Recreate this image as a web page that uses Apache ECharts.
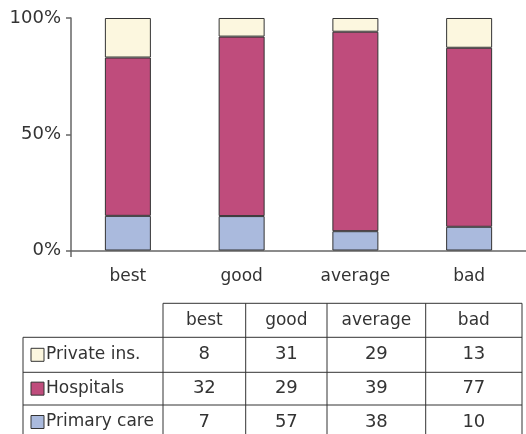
<!DOCTYPE html>
<html>
<head>
<meta charset="utf-8">
<script src="https://cdn.jsdelivr.net/npm/echarts@6/dist/echarts.min.js"></script>
<style>
html,body{margin:0;padding:0;background:#fff;}
#main{width:526px;height:434px;}
</style>
</head>
<body>
<div id="main"></div>
<script>
// Categories and series
var categories = ['best', 'good', 'average', 'bad'];
var seriesNames = ['Private ins.', 'Hospitals', 'Primary care'];
// Table values (as printed in the data table)
var privateIns = [8, 31, 29, 13];
var hospitals = [32, 29, 39, 77];
var primaryCare = [7, 57, 38, 10];
// Bar shares (%)
var primaryShare = [14.9, 14.8, 8.3, 10.2];
var hospitalShare = [68.1, 77.2, 85.8, 77.0];
var privateShare = [17.0, 8.0, 5.9, 12.8];
var yTicks = [0, 50, 100];

var colors = {'Private ins.': '#FCF7DF', 'Hospitals': '#BF4C7C', 'Primary care': '#AABADD'};
var FONT = 'DejaVu Sans';
var chart = echarts.init(document.getElementById('main'));

// table layout
var colX = [163, 245.7, 327, 425.7, 522];
var leftX = 23;
var rowY = [303.3, 337.3, 372.3, 405, 439];
var tableRows = [
  {name: 'Private ins.', values: privateIns},
  {name: 'Hospitals', values: hospitals},
  {name: 'Primary care', values: primaryCare}
];
var g = [];
var lineStyle = {stroke: '#333', lineWidth: 1};
function hline(x1, x2, y) { g.push({type: 'line', shape: {x1: x1, y1: y, x2: x2, y2: y}, style: lineStyle, silent: true}); }
function vline(x, y1, y2) { g.push({type: 'line', shape: {x1: x, y1: y1, x2: x, y2: y2}, style: lineStyle, silent: true}); }
hline(colX[0], colX[4], rowY[0]);
for (var r = 1; r < rowY.length; r++) hline(leftX, colX[4], rowY[r]);
vline(leftX, rowY[1], rowY[4]);
for (var c = 0; c < colX.length; c++) vline(colX[c], rowY[0], rowY[4]);
categories.forEach(function (cat, i) {
  g.push({type: 'text', x: (colX[i] + colX[i + 1]) / 2, y: (rowY[0] + rowY[1]) / 2,
    style: {text: cat, font: '17px "' + FONT + '"', fill: '#333', textAlign: 'center', textVerticalAlign: 'middle'}, silent: true});
});
tableRows.forEach(function (row, ri) {
  var cy = (rowY[ri + 1] + rowY[ri + 2]) / 2;
  g.push({type: 'rect', shape: {x: 31, y: cy - 6.5, width: 13, height: 13},
    style: {fill: colors[row.name], stroke: '#333', lineWidth: 1}, silent: true});
  g.push({type: 'text', x: 46, y: cy,
    style: {text: row.name, font: '17px "' + FONT + '"', fill: '#333', textAlign: 'left', textVerticalAlign: 'middle'}, silent: true});
  row.values.forEach(function (v, ci) {
    g.push({type: 'text', x: (colX[ci] + colX[ci + 1]) / 2, y: cy,
      style: {text: String(v), font: '18px "' + FONT + '"', fill: '#333', textAlign: 'center', textVerticalAlign: 'middle'}, silent: true});
  });
});
// small extension of the axis line below the origin
g.push({type: 'line', shape: {x1: 71, y1: 250.5, x2: 71, y2: 257}, style: {stroke: '#666', lineWidth: 1.5}, silent: true});

function barSeries(name, data) {
  return {
    name: name, type: 'bar', stack: 'total', barWidth: 46, data: data,
    itemStyle: {color: colors[name], borderColor: '#333', borderWidth: 1},
    emphasis: {disabled: true}
  };
}

chart.setOption({
  animation: false,
  backgroundColor: '#fff',
  textStyle: {fontFamily: FONT},
  grid: {left: 71, right: 0, top: 18, bottom: 183.5, containLabel: false},
  xAxis: {
    type: 'category', data: categories,
    axisLine: {show: true, lineStyle: {color: '#666', width: 1.5}},
    axisTick: {show: false},
    axisLabel: {fontSize: 17, color: '#333', margin: 18, fontFamily: FONT}
  },
  yAxis: {
    type: 'value', min: yTicks[0], max: yTicks[yTicks.length - 1], interval: 50,
    axisLine: {show: true, lineStyle: {color: '#666', width: 1.5}},
    axisTick: {show: true, length: 5, lineStyle: {color: '#666', width: 1.5}},
    splitLine: {show: false},
    axisLabel: {fontSize: 18, color: '#333', margin: 10, fontFamily: FONT, formatter: '{value}%'}
  },
  series: [
    barSeries('Primary care', primaryShare),
    barSeries('Hospitals', hospitalShare),
    barSeries('Private ins.', privateShare)
  ],
  graphic: g
});
</script>
</body>
</html>
